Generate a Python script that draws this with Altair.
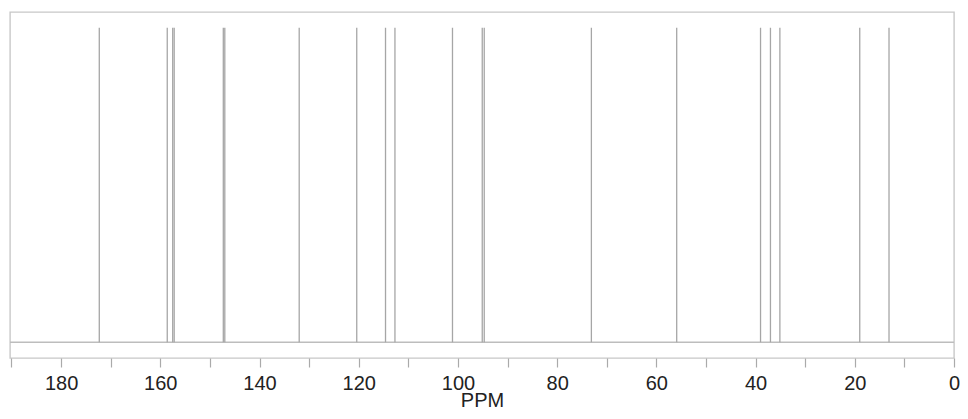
import altair as alt
import pandas as pd

# Peak positions (ppm)
ppm = [172.3, 158.6, 157.5, 157.2, 147.3, 147.0, 132.0, 120.4, 114.6, 112.7,
       101.1, 95.1, 94.7, 73.1, 55.9, 39.0, 37.0, 35.1, 19.0, 13.1]
intensity = [1.0] * len(ppm)
base = [0.0] * len(ppm)
tick_values = list(range(0, 191, 10))

peaks = pd.DataFrame({"ppm": ppm, "intensity": intensity, "base": base})

FONT = "Liberation Sans"

x_scale = alt.Scale(domain=[0, 190.3], reverse=True, nice=False, zero=False)
y_scale = alt.Scale(domain=[-0.05, 1.05], nice=False, zero=False)

sticks = alt.Chart(peaks).mark_rule(color="#a6a6a6", strokeWidth=1.3).encode(
    x=alt.X("ppm:Q", scale=x_scale,
            axis=alt.Axis(values=tick_values,
                          labelExpr="datum.value % 20 == 0 ? datum.label : ''",
                          title="PPM", grid=False, domain=False,
                          tickSize=9, tickColor="#aaaaaa", tickWidth=1.2,
                          labelFont=FONT, labelFontSize=20, labelColor="#222222",
                          labelBaseline="alphabetic", labelPadding=22,
                          labelFlush=False, labelOverlap=False,
                          titleFont=FONT, titleFontSize=20, titleFontWeight="normal",
                          titleColor="#222222", titleBaseline="alphabetic", titleY=48)),
    y=alt.Y("intensity:Q", scale=y_scale, axis=None),
    y2=alt.Y2("base:Q"),
)

baseline = alt.Chart(peaks).mark_rule(color="#bdbdbd", strokeWidth=1.3).encode(
    y=alt.Y("min(base):Q", scale=y_scale, axis=None)
)

chart = alt.layer(baseline, sticks).properties(
    width=944, height=346,
    autosize=alt.AutoSizeParams(type="none"),
    padding={"left": 2, "top": 4, "right": 6, "bottom": 53},
).configure_view(stroke="#c8c8c8", strokeWidth=1.4)

chart.save("out.html", embed_options={"renderer": "svg", "actions": False})
